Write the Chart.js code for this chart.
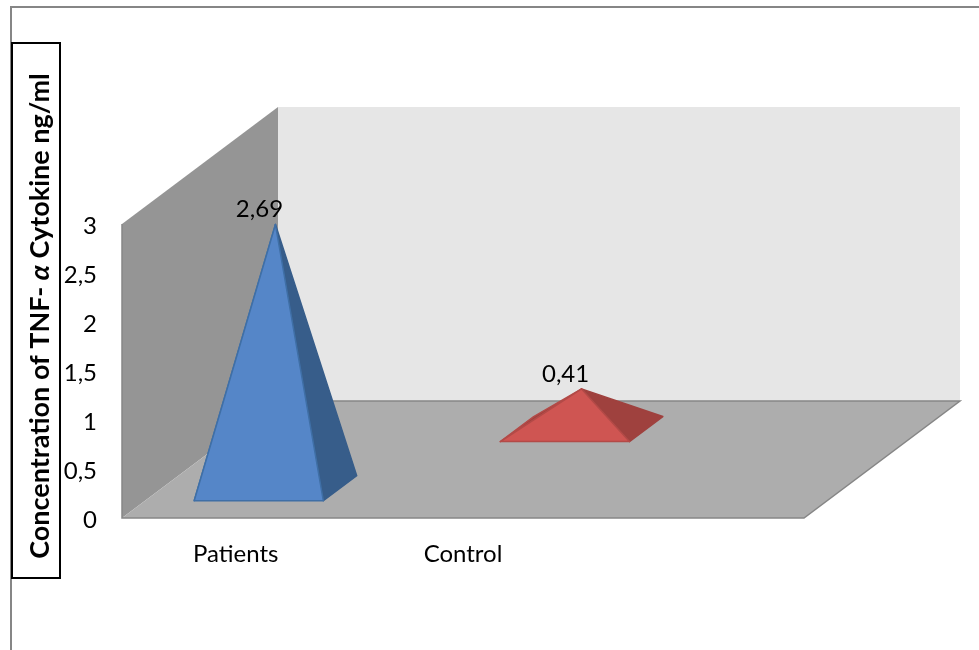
<!DOCTYPE html>
<html>
<head>
<meta charset="utf-8">
<title>TNF-alpha</title>
<style>
  html, body { margin: 0; padding: 0; background: #fff; }
  #wrap { width: 979px; height: 650px; }
</style>
<script src="https://cdn.jsdelivr.net/npm/chart.js@4"></script>
</head>
<body>
<div id="wrap"><canvas id="pyramid_chart" width="979" height="650"></canvas></div>
<script>
const categories = ['Patients', 'Control', ''];
const concentration = [2.69, 0.41, null];
const value_labels = ['2,69', '0,41'];
const axis_max = 3;
const axis_step = 0.5;

// each pyramid sits on its own row of the floor, as a fraction of the floor depth
const row_depth = [0.255, 0.76];
const pyramid_depth = 0.214;
const depth_x = 156;
const depth_y = -117;

const front_colors = ['#5586c8', '#cf5552'];
const side_colors = ['#375d8a', '#9f413e'];
const edge_colors = ['#3f6fa6', '#b34a47'];

function poly(ctx, pts, fill, stroke) {
  ctx.beginPath();
  pts.forEach((p, i) => i ? ctx.lineTo(p[0], p[1]) : ctx.moveTo(p[0], p[1]));
  ctx.closePath();
  ctx.fillStyle = fill;
  ctx.fill();
  if (stroke) {
    ctx.strokeStyle = stroke;
    ctx.lineWidth = 1.5;
    ctx.lineJoin = 'round';
    ctx.stroke();
  }
}

// the rotated axis title needs an italic alpha, so it is written piece by piece
function drawAxisTitle(ctx) {
  const parts = [
    ['bold 27px Lato', 'Concentration of TNF- '],
    ['italic bold 27px Lato', 'α'],
    ['bold 27px Lato', ' Cytokine ng/ml'],
  ];
  ctx.save();
  ctx.fillStyle = '#fff';
  ctx.strokeStyle = '#000';
  ctx.lineWidth = 2;
  ctx.fillRect(12, 43, 48, 535);
  ctx.strokeRect(12, 43, 48, 535);
  ctx.translate(40, 316);
  ctx.rotate(-Math.PI / 2);
  ctx.fillStyle = '#000';
  ctx.textBaseline = 'middle';
  ctx.textAlign = 'left';
  let total = 0;
  parts.forEach(p => { ctx.font = p[0]; total += ctx.measureText(p[1]).width; });
  let x = -total / 2;
  parts.forEach(p => {
    ctx.font = p[0];
    ctx.fillText(p[1], x, 0);
    x += ctx.measureText(p[1]).width;
  });
  ctx.restore();
}

const room_plugin = {
  id: 'room',
  beforeDatasetsDraw(chart) {
    const ctx = chart.ctx;
    const { left, right, top, bottom } = chart.chartArea;
    ctx.save();

    // outer frame, open on the right and at the bottom
    ctx.strokeStyle = '#868686';
    ctx.lineWidth = 2;
    ctx.beginPath();
    ctx.moveTo(11, 650);
    ctx.lineTo(11, 7);
    ctx.lineTo(979, 7);
    ctx.stroke();

    poly(ctx, [
      [left + depth_x, top + depth_y],
      [right + depth_x, top + depth_y],
      [right + depth_x, bottom + depth_y],
      [left + depth_x, bottom + depth_y],
    ], '#e6e6e6');
    poly(ctx, [
      [left, top],
      [left + depth_x, top + depth_y],
      [left + depth_x, bottom + depth_y],
      [left, bottom],
    ], '#959595');
    poly(ctx, [
      [left, bottom],
      [right, bottom],
      [right + depth_x, bottom + depth_y],
      [left + depth_x, bottom + depth_y],
    ], '#adadad');

    ctx.strokeStyle = '#868686';
    ctx.lineWidth = 1.5;
    ctx.beginPath();
    ctx.moveTo(left, top);
    ctx.lineTo(left, bottom);
    ctx.lineTo(right, bottom);
    ctx.lineTo(right + depth_x, bottom + depth_y);
    ctx.lineTo(left + depth_x, bottom + depth_y);
    ctx.stroke();

    ctx.restore();
    drawAxisTitle(ctx);
  },
  afterDatasetsDraw(chart) {
    const ctx = chart.ctx;
    const bars = chart.getDatasetMeta(0).data;
    row_depth.forEach((row, i) => {
      const bar = bars[i];
      const half = bar.width / 2;
      const cx = bar.x + depth_x * row;
      const cy = bar.base + depth_y * row;
      const dx = depth_x * pyramid_depth / 2;
      const dy = depth_y * pyramid_depth / 2;
      const tip = [cx, cy - (bar.base - bar.y)];
      const front_l = [cx - half - dx, cy - dy];
      const front_r = [cx + half - dx, cy - dy];
      const back_l = [cx - half + dx, cy + dy];
      const back_r = [cx + half + dx, cy + dy];

      poly(ctx, [front_l, back_l, tip], side_colors[i], edge_colors[i]);
      poly(ctx, [front_r, back_r, tip], side_colors[i], side_colors[i]);
      poly(ctx, [front_l, front_r, tip], front_colors[i], edge_colors[i]);

      ctx.save();
      ctx.font = '24px Lato';
      ctx.fillStyle = '#000';
      ctx.textAlign = 'center';
      ctx.textBaseline = 'middle';
      ctx.fillText(value_labels[i], tip[0] - 16, tip[1] - 15);
      ctx.restore();
    });
  },
};

const config_chart = {
  type: 'bar',
  data: {
    labels: categories,
    datasets: [{
      label: 'Concentration',
      data: concentration,
      backgroundColor: 'rgba(0,0,0,0)',
      borderWidth: 0,
      barPercentage: 0.568,
      categoryPercentage: 1,
    }],
  },
  plugins: [room_plugin],
  options: {
    responsive: false,
    animation: false,
    layout: { padding: { top: 224, right: 175, left: 0, bottom: 0 } },
    plugins: { legend: { display: false }, tooltip: { enabled: false } },
    scales: {
      x: {
        grid: { display: false },
        border: { display: false },
        ticks: { color: '#000', font: { family: 'Lato', size: 24 }, padding: 14, maxRotation: 0 },
        afterFit(scale) { scale.height = 132; },
      },
      y: {
        min: 0,
        max: axis_max,
        grid: { display: false, drawTicks: false },
        border: { display: false },
        ticks: {
          stepSize: axis_step,
          color: '#000',
          font: { family: 'Lato', size: 24 },
          padding: 25,
          labelOffset: 2,
          callback: v => String(v).replace('.', ','),
        },
        afterFit(scale) { scale.width = 122; },
      },
    },
  },
};

const pyramid_chart = new Chart(document.getElementById('pyramid_chart'), config_chart);
</script>
</body>
</html>
